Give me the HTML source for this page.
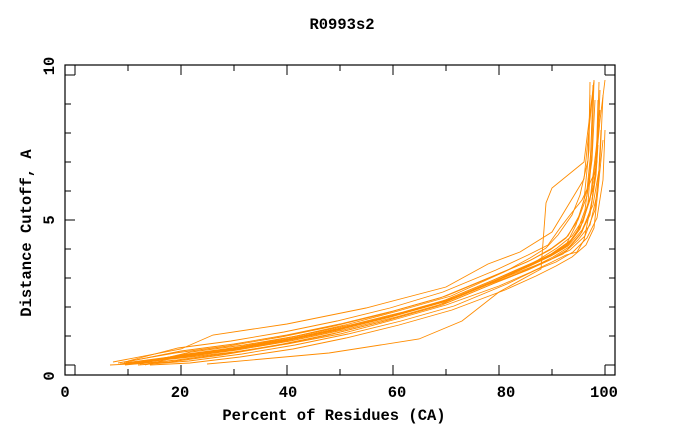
<!DOCTYPE html>
<html><head><meta charset="utf-8"><style>
body{margin:0;background:#fff}
svg{display:block}
text{font-family:"Liberation Mono",monospace;font-weight:bold;font-size:15.5px;fill:#000}
</style></head><body>
<svg width="680" height="440" xmlns="http://www.w3.org/2000/svg">
<rect x="65" y="65" width="550" height="310" fill="none" stroke="#000" stroke-width="1.2"/>
<g stroke="#000" stroke-width="1">
<line x1="75" y1="375" x2="75" y2="365"/><line x1="128" y1="375" x2="128" y2="369"/><line x1="181" y1="375" x2="181" y2="365"/><line x1="234" y1="375" x2="234" y2="369"/><line x1="287" y1="375" x2="287" y2="365"/><line x1="340" y1="375" x2="340" y2="369"/><line x1="393" y1="375" x2="393" y2="365"/><line x1="446" y1="375" x2="446" y2="369"/><line x1="499" y1="375" x2="499" y2="365"/><line x1="552" y1="375" x2="552" y2="369"/><line x1="605" y1="375" x2="605" y2="365"/>
<line x1="75" y1="65" x2="75" y2="75"/><line x1="128" y1="65" x2="128" y2="71"/><line x1="181" y1="65" x2="181" y2="75"/><line x1="234" y1="65" x2="234" y2="71"/><line x1="287" y1="65" x2="287" y2="75"/><line x1="340" y1="65" x2="340" y2="71"/><line x1="393" y1="65" x2="393" y2="75"/><line x1="446" y1="65" x2="446" y2="71"/><line x1="499" y1="65" x2="499" y2="75"/><line x1="552" y1="65" x2="552" y2="71"/><line x1="605" y1="65" x2="605" y2="75"/>
<line x1="65" y1="365" x2="75" y2="365"/><line x1="65" y1="336" x2="71" y2="336"/><line x1="65" y1="307" x2="71" y2="307"/><line x1="65" y1="278" x2="71" y2="278"/><line x1="65" y1="249" x2="71" y2="249"/><line x1="65" y1="220" x2="75" y2="220"/><line x1="65" y1="191" x2="71" y2="191"/><line x1="65" y1="162" x2="71" y2="162"/><line x1="65" y1="133" x2="71" y2="133"/><line x1="65" y1="104" x2="71" y2="104"/><line x1="65" y1="75" x2="75" y2="75"/>
<line x1="615" y1="365" x2="605" y2="365"/><line x1="615" y1="336" x2="609" y2="336"/><line x1="615" y1="307" x2="609" y2="307"/><line x1="615" y1="278" x2="609" y2="278"/><line x1="615" y1="249" x2="609" y2="249"/><line x1="615" y1="220" x2="605" y2="220"/><line x1="615" y1="191" x2="609" y2="191"/><line x1="615" y1="162" x2="609" y2="162"/><line x1="615" y1="133" x2="609" y2="133"/><line x1="615" y1="104" x2="609" y2="104"/><line x1="615" y1="75" x2="605" y2="75"/>
</g>
<g fill="none" stroke="#ff8c00" stroke-width="0.9">
<polyline points="130,364 181,356 234,349 287,340 340,329 393,316 446,301 499,279 531,265 552,255 568,245 580,229 588,203 592,150 594,80"/>
<polyline points="120,364 173,358 226,351 279,342 332,331 385,318 438,303 491,281 525,266 548,256 566,246 577,232 585,210 590,170 592,120"/>
<polyline points="135,363 187,354 240,347 293,338 346,327 399,314 452,299 505,277 535,263 555,252 571,240 583,222 592,190 598,140 600,90"/>
<polyline points="125,365 177,360 230,353 283,344 336,333 389,320 442,305 495,283 528,270 550,260 567,250 580,235 590,215 596,175 598,145"/>
<polyline points="140,364 191,352 244,345 297,336 350,325 403,312 456,297 509,275 538,260 557,248 572,236 584,218 594,185 600,120 605,80"/>
<polyline points="110,365 169,362 222,355 275,346 328,335 381,322 434,307 487,285 522,272 545,262 563,254 578,240 590,225 598,190 603,140"/>
<polyline points="128,364 183,355 236,348 289,339 342,328 395,315 448,300 501,278 532,264 553,254 570,242 581,226 590,200 596,150 600,110"/>
<polyline points="132,364 179,357 232,350 285,341 338,330 391,317 444,302 497,280 530,266 551,256 568,246 582,230 593,205 599,170 601,130"/>
<polyline points="145,365 185,355 238,348 291,339 344,328 397,315 450,300 503,278 534,266 554,258 570,250 585,236 595,210 600,160 603,95"/>
<polyline points="118,363 175,353 228,346 281,337 334,326 387,313 440,298 493,276 527,262 550,250 566,238 578,220 587,196 592,160 595,100"/>
<polyline points="138,365 189,361 242,354 295,345 348,334 401,321 454,306 507,284 536,270 556,262 573,252 587,238 597,218 603,180 605,130"/>
<polyline points="126,362 181,351 234,344 287,335 340,324 393,311 446,296 499,274 531,260 552,248 568,236 579,216 587,190 591,150 593,85"/>
<polyline points="133,364 184,357 237,350 290,341 343,330 396,317 449,302 502,280 533,267 553,257 569,247 582,232 591,208 597,160 599,82"/>
<polyline points="124,363 178,356 231,349 284,340 337,329 390,316 443,301 496,279 529,265 551,254 567,243 576,225 584,200 589,150 590,82"/>
<polyline points="150,365 190,363 240,357 293,349 346,338 399,325 452,310 505,290 536,276 556,266 572,257 586,245 594,228 598,190 600,150"/>
<polyline points="128,361 178,348 231,341 284,332 337,321 390,308 443,292 496,270 528,255 548,245 560,228 570,215 582,200 596,170 598,100"/>
<polyline points="122,364 181,358 234,352 287,344 340,334 393,320 446,305 499,286 531,272 552,262 566,255 577,252 584,240 592,200 597,160"/>
<polyline points="140,363 186,355 239,347 292,337 345,325 398,311 451,296 504,272 530,258 546,248 558,235 572,215 580,195 588,160 590,95"/>
<polyline points="113,362 181,349 213,335 287,324 366,308 446,287 488,264 520,252 552,232 584,179 594,81"/>
<polyline points="207,364 329,353 419,339 462,321 499,292 541,269 546,203 552,188 584,162 594,81"/>
</g>
<text x="342" y="29" text-anchor="middle">R0993s2</text>
<text x="65" y="397" text-anchor="middle">0</text>
<text x="180" y="397" text-anchor="middle">20</text>
<text x="288" y="397" text-anchor="middle">40</text>
<text x="397" y="397" text-anchor="middle">60</text>
<text x="506" y="397" text-anchor="middle">80</text>
<text x="604" y="397" text-anchor="middle">100</text>
<text x="334" y="420" text-anchor="middle">Percent of Residues (CA)</text>
<text transform="translate(54,376) rotate(-90)" text-anchor="middle">0</text>
<text transform="translate(54,220) rotate(-90)" text-anchor="middle">5</text>
<text transform="translate(54,66) rotate(-90)" text-anchor="middle">10</text>
<text transform="translate(31,233) rotate(-90)" text-anchor="middle">Distance Cutoff, A</text>
</svg>
</body></html>
